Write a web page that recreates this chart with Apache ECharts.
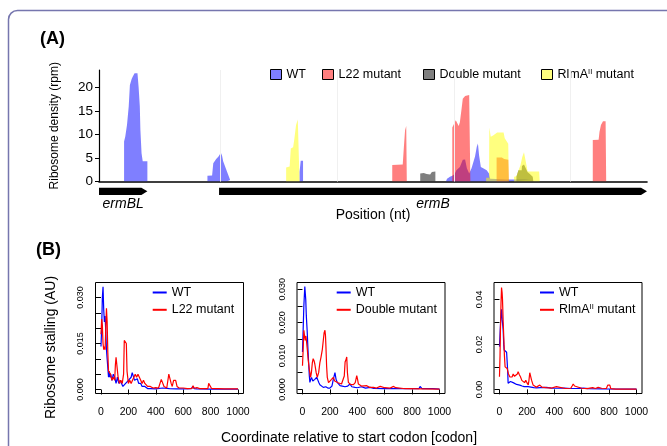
<!DOCTYPE html>
<html>
<head>
<meta charset="utf-8">
<script src="https://cdn.jsdelivr.net/npm/echarts@6/dist/echarts.min.js"></script>
<style>
html, body { margin: 0; padding: 0; background: #fff; }
#chart { width: 667px; height: 446px; }
</style>
</head>
<body>
<div id="chart"></div>
<script>
const FONT = "'Liberation Sans', Arial, Helvetica, sans-serif";

// (A) ribosome density along ermBL / ermB, one list per peak, points are [position (nt), rpm]
const strainNames = ["WT", "L22 mutant", "Double mutant", "RlmAII mutant"];
const wtDensity = [
  [[43, 0], [43, 8.5], [45, 9.5], [48, 12], [51, 16], [53, 20.5], [56, 21.8], [58, 22.3], [61, 23], [66, 23],
   [68, 20], [70, 16], [71, 11], [73, 6], [75, 4.3], [83, 4.3], [83, 0]],
  [[186, 0], [186, 1.2], [194, 1.3], [196, 3.9], [201, 4.8], [205, 5.3], [209, 6.1], [211, 5.5], [213, 4.3],
   [219, 2.3], [225, 0.3], [226, 0]],
  [[316, 0], [316, 0.3], [328, 0.3], [328, 0]],
  [[344, 0], [344, 2], [346, 4.4], [350, 4.4], [350, 0]],
  [[521, 0], [521, 0.4], [528, 0.4], [528, 0]],
  [[595, 0], [597, 0.6], [602, 1.0], [606, 1.2], [610, 1.6], [613, 2.4], [619, 3.1], [624, 4.6], [628, 4.7],
   [631, 2.8], [635, 1.7], [637, 1.4], [639, 2.8], [642, 3.1], [645, 5.3], [648, 7.4], [650, 8.1], [652, 5.5],
   [655, 3.1], [659, 2.8], [665, 2.4], [669, 1.7], [671, 0.6], [700, 0.4], [741, 0.4], [741, 0]]
];
const l22Density = [
  [[503, 0], [503, 3.5], [521, 3.6], [523, 7.4], [525, 10.9], [527, 11.8], [528, 12], [528, 0]],
  [[606, 0], [606, 11.5], [609, 11.8], [612, 13], [615, 13.2], [617, 11.8], [619, 12.6], [622, 15.5],
   [624, 17.6], [628, 18.2], [635, 18.4], [636.5, 18.2], [637, 0]],
  [[682, 0], [682, 5.1], [691, 5.1], [695, 4.8], [702, 4.6], [703, 0]],
  [[847, 0], [847, 8.8], [857, 8.9], [858.5, 10.5], [861, 12], [864.5, 12.8], [869, 12.8], [870, 0]]
];
const doubleDensity = [
  [[551, 0], [551, 1.7], [557, 1.8], [562, 1.6], [568, 1.5], [571, 2.0], [577, 2.1], [577, 0]],
  [[716, 0], [716, 1], [719, 1], [719.5, 2.4], [725, 2.4], [725.5, 3.3], [729, 3.6], [732, 2.8], [735, 2],
   [739, 1.6], [744, 1.0], [745, 0]]
];
const rlmaDensity = [
  [[321, 0], [321, 3], [327, 3.2], [329, 7], [333, 7.3], [335, 9], [338, 12], [341, 13.2], [343.5, 13.5], [344, 0]],
  [[664, 0], [664, 0.8], [669, 0.8], [669.5, 11.5], [672, 9.5], [676, 9.8], [679, 10.2], [683, 10.4], [694, 10.4],
   [696, 9.2], [699, 8.8], [702, 8.0], [703, 0]],
  [[712, 0], [712, 1], [716, 1.1], [719, 1.5], [723, 3.5], [726, 5.2], [729, 6.2], [732, 5.8], [734, 3], [735, 2.1],
   [755, 2.1], [756, 0]]
];
const densityTicks = [0, 5, 10, 15, 20];
const guideLines = [208, 408, 609, 808];
// gene: start, end, name
const genes = [[0, 83, "ermBL"], [206, 940, "ermB"]];

// (B) ribosome stalling, points are [codon, AU]
const codonTicks = [0, 200, 400, 600, 800, 1000];
const wtStall1 = [
  [0, 0.014], [5, 0.020], [10, 0.030], [15, 0.0335], [20, 0.026], [25, 0.022], [30, 0.024], [35, 0.019], [40, 0.013],
  [45, 0.010], [50, 0.007], [55, 0.004], [60, 0.006], [65, 0.004], [70, 0.005], [80, 0.003], [90, 0.005], [100, 0.004],
  [110, 0.002], [120, 0.004], [130, 0.002], [140, 0.003], [150, 0.002], [160, 0.001], [170, 0.001], [180, 0.002],
  [190, 0.002], [200, 0.003], [210, 0.003], [220, 0.004], [228, 0.0055], [235, 0.005], [245, 0.003], [255, 0.003],
  [265, 0.0035], [275, 0.002], [290, 0.002], [300, 0.001], [320, 0.001], [340, 0.0003], [360, 0.0003], [400, 0.0002],
  [450, 0.0005], [500, 0.0003], [550, 0.0002], [600, 0.0002], [660, 0.0003], [670, 0.001], [680, 0.0003],
  [700, 0.0002], [800, 0.0001], [900, 0.0001], [1000, 0.0001]
];
const l22Stall = [
  [0, 0.018], [5, 0.023], [10, 0.021], [15, 0.015], [20, 0.013], [25, 0.014], [30, 0.013], [35, 0.020], [40, 0.0265],
  [45, 0.022], [50, 0.012], [55, 0.006], [60, 0.006], [70, 0.005], [80, 0.003], [90, 0.004], [100, 0.003], [105, 0.008],
  [110, 0.0105], [118, 0.0105], [125, 0.004], [135, 0.002], [145, 0.003], [155, 0.002], [165, 0.005], [170, 0.016],
  [178, 0.0165], [185, 0.015], [190, 0.006], [200, 0.002], [210, 0.003], [220, 0.002], [230, 0.003], [240, 0.004],
  [250, 0.005], [260, 0.004], [270, 0.005], [280, 0.004], [290, 0.003], [300, 0.002], [310, 0.003], [320, 0.002],
  [340, 0.001], [360, 0.001], [380, 0.0005], [400, 0.0006], [420, 0.0005], [430, 0.001], [440, 0.0033], [450, 0.003],
  [460, 0.001], [480, 0.0005], [490, 0.0005], [495, 0.005], [505, 0.005], [512, 0.002], [520, 0.001], [530, 0.003],
  [545, 0.003], [555, 0.001], [570, 0.0005], [600, 0.0005], [630, 0.0003], [665, 0.0004], [672, 0.0012], [680, 0.0004],
  [700, 0.0006], [720, 0.0003], [780, 0.0003], [786, 0.002], [800, 0.002], [806, 0.0004], [840, 0.0003], [848, 0.0008],
  [856, 0.0003], [900, 0.0002], [1000, 0.0002]
];
const wtStall2 = [
  [0, 0.0112], [5, 0.018], [10, 0.025], [17, 0.0308], [24, 0.0268], [28, 0.022], [34, 0.0177], [40, 0.012], [44, 0.0087],
  [50, 0.004], [54, 0.0021], [60, 0.003], [66, 0.0036], [75, 0.0025], [83, 0.002], [90, 0.003], [97, 0.0025],
  [103, 0.0036], [110, 0.003], [120, 0.002], [127, 0.0014], [140, 0.001], [152, 0.0006], [170, 0.0008], [185, 0.0004],
  [200, 0.0004], [215, 0.001], [225, 0.003], [237, 0.005], [245, 0.003], [255, 0.002], [265, 0.0015], [274, 0.0011],
  [290, 0.001], [310, 0.0008], [330, 0.001], [347, 0.0016], [360, 0.0008], [384, 0.0006], [400, 0.0005], [430, 0.0008],
  [460, 0.0004], [494, 0.0006], [520, 0.0003], [600, 0.0002], [700, 0.0002], [850, 0.0002], [858, 0.0009],
  [866, 0.0009], [872, 0.0002], [950, 0.0002], [1000, 0.0001]
];
const doubleStall = [
  [0, 0.0071], [5, 0.012], [10, 0.0177], [15, 0.016], [20, 0.0147], [25, 0.016], [29, 0.0146], [35, 0.012], [42, 0.0087],
  [50, 0.006], [59, 0.0036], [65, 0.005], [72, 0.008], [78, 0.0092], [85, 0.0085], [90, 0.0076], [100, 0.005],
  [108, 0.0036], [118, 0.005], [127, 0.008], [135, 0.0096], [139, 0.0094], [145, 0.012], [152, 0.0147], [158, 0.017],
  [164, 0.0177], [168, 0.016], [171, 0.013], [176, 0.007], [181, 0.0036], [190, 0.002], [200, 0.0021], [212, 0.003],
  [225, 0.0036], [235, 0.0025], [249, 0.0026], [260, 0.002], [274, 0.0021], [285, 0.0016], [298, 0.0016], [305, 0.004],
  [311, 0.0082], [318, 0.009], [323, 0.0097], [328, 0.005], [335, 0.0021], [350, 0.0015], [372, 0.0014], [385, 0.002],
  [396, 0.0041], [402, 0.003], [408, 0.0016], [430, 0.001], [469, 0.0011], [490, 0.0006], [518, 0.0006], [540, 0.0004],
  [567, 0.0009], [600, 0.0005], [640, 0.0004], [665, 0.0009], [680, 0.0005], [690, 0.0002], [750, 0.0002], [1000, 0.0001]
];
const wtStall3 = [
  [0, 0.019], [5, 0.026], [10, 0.032], [15, 0.0356], [20, 0.031], [27, 0.0264], [31, 0.020], [34, 0.0175], [40, 0.017],
  [46, 0.0172], [52, 0.0165], [56, 0.016], [60, 0.008], [63, 0.0027], [70, 0.003], [80, 0.0035], [88, 0.004], [100, 0.003],
  [112, 0.0024], [125, 0.0022], [135, 0.002], [148, 0.0019], [165, 0.0015], [180, 0.0012], [209, 0.0012], [230, 0.001],
  [250, 0.0008], [270, 0.0007], [300, 0.0008], [343, 0.0009], [380, 0.0006], [420, 0.0005], [455, 0.0006], [465, 0.0012],
  [475, 0.0006], [520, 0.0004], [560, 0.0004], [611, 0.0006], [650, 0.0003], [750, 0.0002], [1000, 0.0001]
];
const rlmaStall = [
  [0, 0.0056], [4, 0.015], [7, 0.0264], [11, 0.038], [15, 0.0453], [19, 0.043], [22, 0.040], [27, 0.030], [32, 0.022],
  [36, 0.015], [41, 0.010], [48, 0.0095], [56, 0.0093], [65, 0.007], [75, 0.0056], [85, 0.0062], [92, 0.0055],
  [100, 0.0068], [110, 0.0058], [118, 0.006], [124, 0.0056], [130, 0.0068], [136, 0.0079], [145, 0.0065], [153, 0.0056],
  [163, 0.004], [173, 0.0034], [183, 0.003], [192, 0.0041], [200, 0.003], [210, 0.002], [215, 0.004], [221, 0.0074],
  [228, 0.0072], [234, 0.0041], [245, 0.002], [258, 0.0012], [270, 0.001], [280, 0.0018], [294, 0.0019], [310, 0.001],
  [340, 0.0008], [380, 0.0006], [416, 0.0012], [430, 0.0006], [480, 0.0004], [520, 0.0005], [530, 0.0015], [538, 0.0024],
  [548, 0.0015], [562, 0.0009], [600, 0.0005], [640, 0.0003], [680, 0.0008], [700, 0.0004], [720, 0.0009], [732, 0.0015],
  [745, 0.0005], [780, 0.0004], [790, 0.0019], [805, 0.0019], [812, 0.0003], [850, 0.0001], [1000, 0.0001]
];
const stallTicks1 = [0, 0.005, 0.01, 0.015, 0.02, 0.025, 0.03];
const stallLabels1 = [0, 0.015, 0.03];
const stallTicks2 = [0, 0.005, 0.01, 0.015, 0.02, 0.025, 0.03];
const stallLabels2 = [0, 0.01, 0.02, 0.03];
const stallTicks3 = [0, 0.01, 0.02, 0.03, 0.04];
const stallLabels3 = [0, 0.02, 0.04];

const areaColors = ["rgba(0,0,255,0.5)", "rgba(255,0,0,0.5)", "rgba(0,0,0,0.5)", "rgba(255,255,0,0.5)"];
const densitySets = [wtDensity, l22Density, doubleDensity, rlmaDensity];

const supName = (name) => name === "RlmAII mutant" ? "RlmA{sup|II} mutant" : name;
const legendText = {
  fontSize: 12.5, color: "#000", fontFamily: FONT, lineHeight: 14,
  rich: { sup: { fontSize: 7.5, fontFamily: FONT, color: "#000", verticalAlign: "top", lineHeight: 10 } }
};

// panel B plot boxes
const panels = [
  { left: 95.5, names: ["WT", "L22 mutant"], sets: [wtStall1, l22Stall], y: [-0.0013, 0.0349],
    ticks: stallTicks1, labels: stallLabels1, digits: 3, legendLeft: 152.7 },
  { left: 297, names: ["WT", "Double mutant"], sets: [wtStall2, doubleStall], y: [-0.00123, 0.0320],
    ticks: stallTicks2, labels: stallLabels2, digits: 3, legendLeft: 336.7 },
  { left: 494, names: ["WT", "RlmAII mutant"], sets: [wtStall3, rlmaStall], y: [-0.00183, 0.0475],
    ticks: stallTicks3, labels: stallLabels3, digits: 2, legendLeft: 540 }
];

const grid = [{ left: 99, top: 70, width: 548, height: 111.5 }];
const xAxis = [{
  type: "value", gridIndex: 0, min: 0, max: 940,
  axisLine: { show: true, lineStyle: { color: "#000", width: 1.6 } },
  axisTick: { show: false }, axisLabel: { show: false }, splitLine: { show: false },
  name: "Position (nt)", nameLocation: "middle", nameGap: 27,
  nameTextStyle: { fontSize: 14, color: "#000", fontFamily: FONT }
}];
const yAxis = [{
  type: "value", gridIndex: 0, min: 0, max: 23.7,
  axisLine: { show: true, lineStyle: { color: "#000", width: 1.2 } },
  axisTick: { show: true, customValues: densityTicks, length: 4, lineStyle: { color: "#000" } },
  axisLabel: { customValues: densityTicks, fontSize: 13.5, color: "#000", fontFamily: FONT, margin: 6 },
  splitLine: { show: false },
  name: "Ribosome density (rpm)", nameLocation: "middle", nameGap: 38,
  nameTextStyle: { fontSize: 12, color: "#000", fontFamily: FONT }
}];

// peaks joined with empty points so every peak is filled on its own
const joinPeaks = (peaks) => peaks.flatMap((p, i) => i ? [[p[0][0], "-"], ...p] : p);

const series = densitySets.map((d, i) => ({
  type: "line", name: strainNames[i], xAxisIndex: 0, yAxisIndex: 0, data: joinPeaks(d),
  showSymbol: false, symbol: "none", silent: true, animation: false, connectNulls: false,
  lineStyle: { width: 0, opacity: 0 },
  areaStyle: { color: areaColors[i], opacity: 1 },
  itemStyle: { color: areaColors[i] },
  markLine: i === 0 ? {
    silent: true, symbol: "none", label: { show: false },
    lineStyle: { color: "#f0f0f0", width: 1, type: "solid" },
    data: guideLines.map(v => ({ xAxis: v }))
  } : undefined
}));

series.push({
  type: "custom", xAxisIndex: 0, yAxisIndex: 0, silent: true, animation: false,
  data: genes.map(g => [g[0], g[1]]),
  encode: { x: [0, 1], y: -1 },
  renderItem(params, api) {
    const a = api.coord([api.value(0), 0]);
    const b = api.coord([api.value(1), 0]);
    const yc = a[1] + 9.8, h = 3.6;
    return {
      type: "group",
      children: [
        { type: "polygon",
          shape: { points: [[a[0], yc - h], [b[0] - 6, yc - h], [b[0], yc], [b[0] - 6, yc + h], [a[0], yc + h]] },
          style: { fill: "#000" } },
        { type: "text",
          style: { text: genes[params.dataIndex][2], x: (a[0] + b[0]) / 2, y: yc + 12.5,
                   align: "center", verticalAlign: "middle",
                   fontSize: 14, fontStyle: "italic", fontFamily: FONT, fill: "#000" } }
      ]
    };
  }
});

const legend = [270, 322, 423, 541].map((left, i) => ({
  left, top: 67.5, padding: 0, itemWidth: 11, itemHeight: 10, selectedMode: false,
  textStyle: legendText, formatter: supName,
  data: [{ name: strainNames[i], icon: "rect",
           itemStyle: { color: areaColors[i], borderColor: "#000", borderWidth: 1 } }]
}));

panels.forEach((p, k) => {
  const gi = k + 1;
  grid.push({ left: p.left, top: 282.5, width: 148, height: 111, show: true,
              borderColor: "#000", borderWidth: 1, backgroundColor: "transparent" });
  xAxis.push({
    type: "value", gridIndex: gi, min: -40, max: 1040,
    axisLine: { show: false }, splitLine: { show: false },
    axisTick: { show: true, customValues: codonTicks, length: 5, lineStyle: { color: "#000" } },
    axisLabel: { customValues: codonTicks, fontSize: 10.5, color: "#000", fontFamily: FONT, margin: 13,
                 formatter: v => String(v) }
  });
  yAxis.push({
    type: "value", gridIndex: gi, min: p.y[0], max: p.y[1],
    axisLine: { show: false }, splitLine: { show: false },
    axisTick: { show: true, customValues: p.ticks, length: 5, lineStyle: { color: "#000" } },
    axisLabel: { customValues: p.labels, rotate: 90, fontSize: 9, color: "#000", fontFamily: FONT,
                 margin: 10, formatter: v => v.toFixed(p.digits) }
  });
  const colors = ["#0000ff", "#ff0000"];
  p.sets.forEach((d, j) => {
    series.push({
      type: "line", name: p.names[j], xAxisIndex: gi, yAxisIndex: gi, data: d,
      showSymbol: false, symbol: "none", silent: true, animation: false,
      lineStyle: { color: colors[j], width: 1.2 }, itemStyle: { color: colors[j] }
    });
  });
  legend.push({
    left: p.legendLeft, top: 285.5, orient: "vertical", padding: 0, itemGap: 3.3,
    itemWidth: 14, itemHeight: 2, selectedMode: false,
    textStyle: legendText, formatter: supName,
    data: p.names.map((n, j) => ({ name: n, icon: "rect",
      itemStyle: { color: colors[j], borderWidth: 0 } }))
  });
});

const chart = echarts.init(document.getElementById("chart"), null, { renderer: "canvas" });
chart.setOption({
  animation: false,
  backgroundColor: "#fff",
  grid, xAxis, yAxis, legend, series,
  graphic: [
    { type: "rect", silent: true, z: -10,
      shape: { x: 8.5, y: 10.5, width: 700, height: 500, r: 9 },
      style: { fill: "none", stroke: "#7676ae", lineWidth: 1.5 } },
    { type: "text", x: 40, y: 39,
      style: { text: "(A)", fontSize: 18, fontWeight: "bold", fontFamily: FONT, fill: "#000",
               align: "left", verticalAlign: "middle" } },
    { type: "text", x: 36, y: 250,
      style: { text: "(B)", fontSize: 18, fontWeight: "bold", fontFamily: FONT, fill: "#000",
               align: "left", verticalAlign: "middle" } },
    { type: "text", x: 51, y: 347.5, rotation: Math.PI / 2,
      style: { text: "Ribosome stalling (AU)", fontSize: 14, fontFamily: FONT, fill: "#000",
               align: "center", verticalAlign: "middle" } },
    { type: "text", x: 349, y: 438,
      style: { text: "Coordinate relative to start codon [codon]", fontSize: 14, fontFamily: FONT, fill: "#000",
               align: "center", verticalAlign: "middle" } }
  ]
});
</script>
</body>
</html>
